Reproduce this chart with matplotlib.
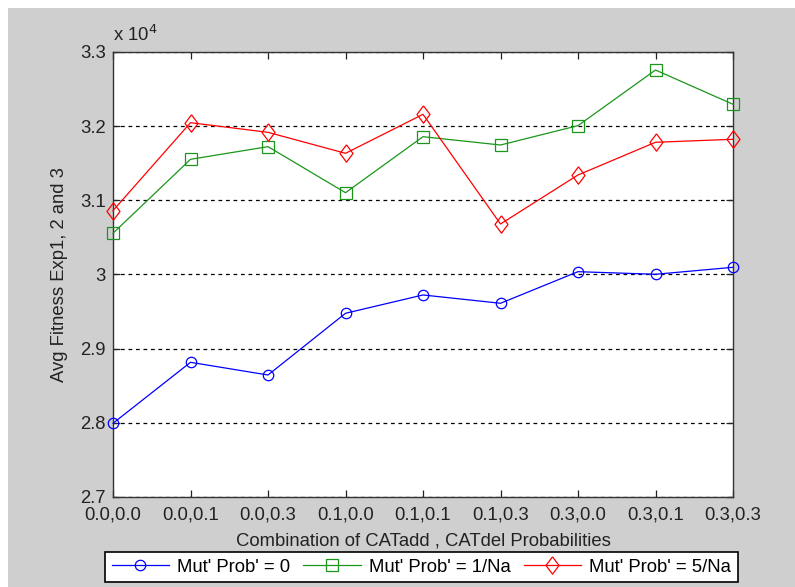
import matplotlib
matplotlib.use("Agg")
import matplotlib.pyplot as plt
from matplotlib.patches import Rectangle

plt.rcParams['font.family'] = ['Liberation Sans', 'DejaVu Sans']

categories = ["0.0,0.0", "0.0,0.1", "0.0,0.3", "0.1,0.0", "0.1,0.1",
              "0.1,0.3", "0.3,0.0", "0.3,0.1", "0.3,0.3"]
mut_zero = [2.7994, 2.8816, 2.8645, 2.9477, 2.9724, 2.9612, 3.0038, 3.0003, 3.0097]
mut_one_na = [3.0556, 3.1553, 3.1724, 3.1103, 3.1858, 3.1746, 3.2007, 3.2757, 3.2295]
mut_five_na = [3.0861, 3.2047, 3.1917, 3.1634, 3.2160, 3.0681, 3.1342, 3.1783, 3.1823]
y_ticks = [2.7, 2.8, 2.9, 3.0, 3.1, 3.2, 3.3]
y_tick_labels = ["2.7", "2.8", "2.9", "3", "3.1", "3.2", "3.3"]
series_labels = ["Mut' Prob' = 0", "Mut' Prob' = 1/Na", "Mut' Prob' = 5/Na"]

W, H = 795, 587
FS = 13.3
fig = plt.figure(figsize=(W / 100, H / 100), dpi=100)
fig.patch.set_facecolor('white')
# gray window panel
fig.patches.append(Rectangle((8 / W, 0), 1 - 8 / W, 1 - 8 / H, transform=fig.transFigure,
                             facecolor='#cfcfcf', edgecolor='none', zorder=-10))

ax = fig.add_axes([113 / W, 90 / H, 620 / W, 445 / H])
ax.set_facecolor('white')

# diamond a little wider than matplotlib's thin 'd'
diamond = [(0, 1), (0.75, 0), (0, -1), (-0.75, 0), (0, 1)]

x = list(range(len(categories)))
style = dict(lw=0.9, mfc='none', mew=0.9, clip_on=False, zorder=3)
l1, = ax.plot(x, mut_zero, color='#0000ff', marker='o', ms=7.5, mec='#0000ff',
              label=series_labels[0], **style)
l2, = ax.plot(x, mut_one_na, color='#1a961a', marker='s', ms=8, mec='#1a961a',
              label=series_labels[1], **style)
l3, = ax.plot(x, mut_five_na, color='#ff0000', marker=diamond, ms=12.5, mec='#ff0000',
              label=series_labels[2], **style)

ax.set_xlim(0, len(categories) - 1)
ax.set_ylim(2.7, 3.3)
ax.set_xticks(x)
ax.set_xticklabels(categories)
ax.set_yticks(y_ticks)
ax.set_yticklabels(y_tick_labels)
ax.yaxis.grid(True, linestyle=(0, (3, 3)), color='black', lw=0.9)
ax.set_axisbelow(True)
ax.tick_params(direction='in', length=5, width=0.9, top=True, right=True,
               labelsize=FS, colors='#222222')
ax.tick_params(axis='x', pad=7)
ax.tick_params(axis='y', pad=5)
for s in ax.spines.values():
    s.set_color('#333333')
    s.set_linewidth(1.0)

ax.set_xlabel("Combination of CATadd , CATdel Probabilities", fontsize=FS, labelpad=6,
              color='#222222')
ax.set_ylabel("Avg Fitness Exp1, 2 and 3", fontsize=FS, labelpad=9, color='#222222')
ax.text(0.0, 1.015, r"x 10$^{4}$", transform=ax.transAxes, fontsize=FS,
        ha='left', va='bottom', color='#222222')

leg = fig.legend(handles=[l1, l2, l3], loc='center', ncol=3,
                 bbox_to_anchor=(421.5 / W, (587 - 567) / H),
                 fontsize=FS, frameon=True, fancybox=False,
                 edgecolor='black', facecolor='white', framealpha=1,
                 handlelength=3.1, handletextpad=0.45, columnspacing=0.7,
                 borderpad=0.35, borderaxespad=0)
leg.get_frame().set_linewidth(1.2)

fig.savefig("out.png", dpi=100, facecolor=fig.get_facecolor())
